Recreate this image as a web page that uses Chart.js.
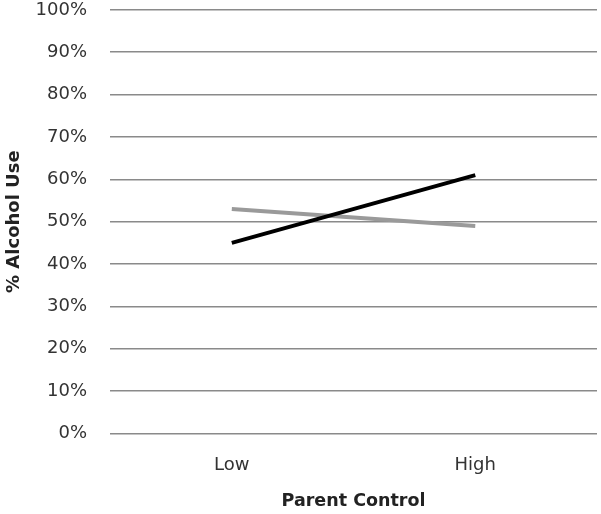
<!DOCTYPE html>
<html>
<head>
<meta charset="utf-8">
<script src="https://cdn.jsdelivr.net/npm/chart.js@4/dist/chart.umd.min.js"></script>
<style>
  html, body { margin: 0; padding: 0; background: #fff; }
  #wrap { width: 601px; height: 514px; }
</style>
</head>
<body>
<div id="wrap"><canvas id="chart"></canvas></div>
<script>
// Chart data
const categories = ['Low', 'High'];
const seriesDark = [45, 61];
const seriesLight = [53, 49];
const yTicks = [0, 10, 20, 30, 40, 50, 60, 70, 80, 90, 100];

const fontFamily = "'DejaVu Sans', sans-serif";

const ctx = document.getElementById('chart').getContext('2d');
new Chart(ctx, {
    type: 'line',
    data: {
        labels: categories,
        datasets: [
            {
                label: 'Series 1',
                data: seriesDark,
                borderColor: '#000000',
                borderWidth: 4,
                pointRadius: 0,
                tension: 0
            },
            {
                label: 'Series 2',
                data: seriesLight,
                borderColor: '#9a9a9a',
                borderWidth: 4,
                pointRadius: 0,
                tension: 0
            }
        ]
    },
    options: {
        responsive: true,
        maintainAspectRatio: false,
        animation: false,
        layout: {
            padding: { top: 0, right: 4, bottom: 2, left: 4 }
        },
        plugins: {
            legend: { display: false },
            tooltip: { enabled: false }
        },
        scales: {
            x: {
                offset: true,
                // invisible tick marks give the gap under the 0% line
                grid: {
                    display: true,
                    color: 'rgba(0,0,0,0)',
                    drawTicks: true,
                    tickLength: 19,
                    tickColor: 'rgba(0,0,0,0)'
                },
                border: { display: false },
                ticks: {
                    color: '#333',
                    padding: 2,
                    font: { family: fontFamily, size: 18 }
                },
                title: {
                    display: true,
                    text: 'Parent Control',
                    color: '#222',
                    padding: { top: 13, bottom: 0 },
                    font: { family: fontFamily, size: 17.5, weight: 'bold' }
                }
            },
            y: {
                min: 0,
                max: 100,
                afterBuildTicks: axis => {
                    axis.ticks = yTicks.map(v => ({ value: v }));
                },
                grid: {
                    color: '#8a8a8a',
                    lineWidth: 1.5,
                    drawTicks: true,
                    tickLength: 23,
                    tickColor: 'rgba(0,0,0,0)'
                },
                border: { display: false },
                ticks: {
                    color: '#333',
                    padding: 0,
                    font: { family: fontFamily, size: 18, lineHeight: 1.1 },
                    callback: v => v + '%'
                },
                title: {
                    display: true,
                    text: '% Alcohol Use',
                    color: '#222',
                    padding: { top: 0, bottom: 10 },
                    font: { family: fontFamily, size: 18, weight: 'bold' }
                }
            }
        }
    }
});
</script>
</body>
</html>
